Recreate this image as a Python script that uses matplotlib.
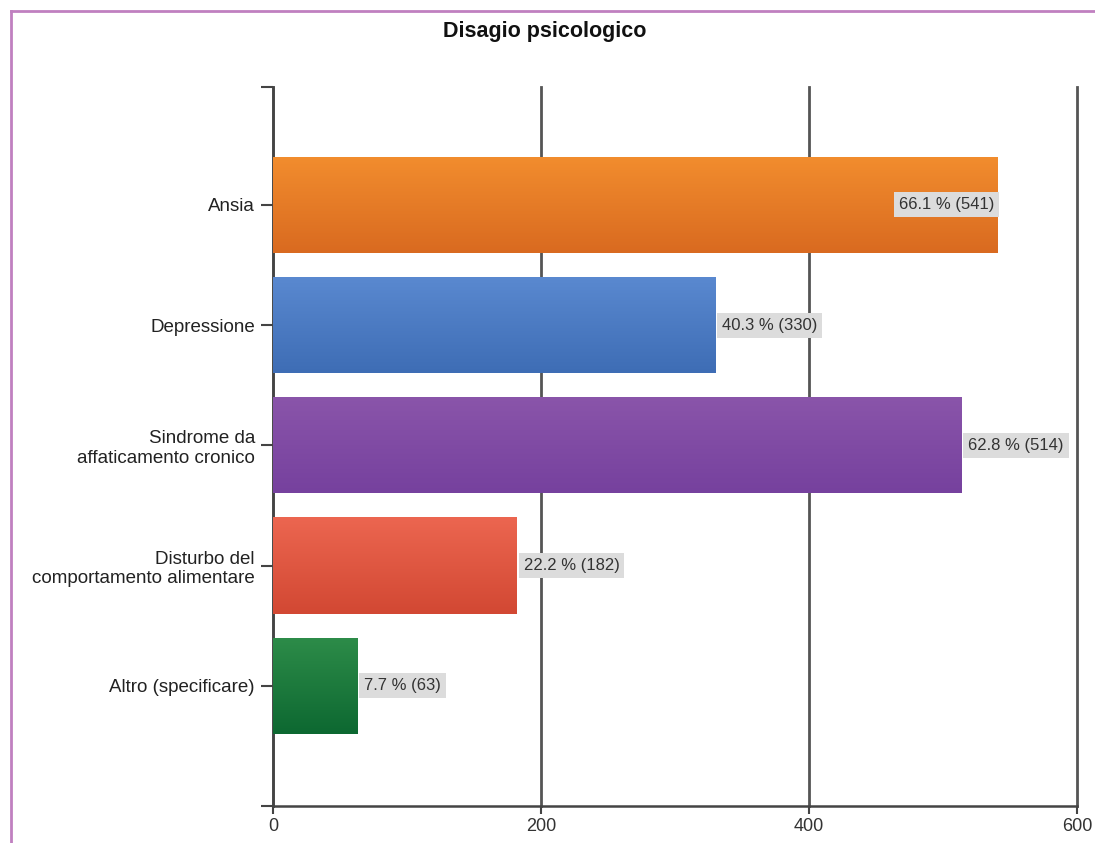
import numpy as np
import matplotlib
matplotlib.use("Agg")
import matplotlib.pyplot as plt
from matplotlib.lines import Line2D
from matplotlib.colors import LinearSegmentedColormap

# === Data ===
categories = ["Ansia", "Depressione", "Sindrome da\naffaticamento cronico",
              "Disturbo del\ncomportamento alimentare", "Altro (specificare)"]
counts = [541, 330, 514, 182, 63]
percents = [66.1, 40.3, 62.8, 22.2, 7.7]
top_colors = ["#f28d2e", "#5a89d0", "#8a55aa", "#ec6650", "#2d8c49"]
bottom_colors = ["#d96a20", "#3e6db5", "#76419e", "#d24833", "#0d6831"]

plt.rcParams['font.family'] = ['Liberation Sans', 'DejaVu Sans']

fig = plt.figure(figsize=(10.95, 8.43), dpi=100)
ax = fig.add_axes([0.2493, 0.0439, 0.7343, 0.8529])

y = np.arange(len(categories))
bars = ax.barh(y, counts, height=0.8, color=top_colors, zorder=3)

# gradient fill clipped to each bar (light on top, dark at bottom)
grad = np.linspace(0, 1, 256).reshape(-1, 1)
for b, c1, c2 in zip(bars, top_colors, bottom_colors):
    cmap = LinearSegmentedColormap.from_list("g", [c2, c1])
    x0, y0 = b.get_x(), b.get_y()
    w, h = b.get_width(), b.get_height()
    im = ax.imshow(grad, cmap=cmap, aspect="auto", extent=(x0, x0 + w, y0, y0 + h),
                   origin="upper", zorder=3.5)
    im.set_clip_path(b)

ax.set_xlim(0, 600)
ax.set_ylim(5.0, -0.98)

# data labels
box = dict(boxstyle="square,pad=0.3", fc="#dcdcdc", ec="none")
for i, (c, p) in enumerate(zip(counts, percents)):
    txt = f"{p} % ({c})"
    if c + 80 > 600:
        ax.text(c - 3, i, txt, ha="right", va="center", fontsize=12, color="#333333",
                bbox=box, zorder=5)
    else:
        ax.text(c + 5, i, txt, ha="left", va="center", fontsize=12, color="#333333",
                bbox=box, zorder=5)

ax.set_yticks(y)
ax.set_yticklabels(categories, fontsize=13.5, color="#222222")
ax.set_yticks([-0.98, 5.0], minor=True)
ax.set_xticks([0, 200, 400, 600])
ax.tick_params(axis="y", which="both", length=9, width=1.5, color="#444444", pad=4)
ax.tick_params(axis="x", length=6, width=1.5, color="#444444", labelsize=13,
               labelcolor="#333333", pad=3)

ax.grid(axis="x", color="#555555", linewidth=2, zorder=1)
for gl in ax.get_xgridlines():
    gl.set_clip_on(False)
ax.set_axisbelow(True)
for s in ["top", "right"]:
    ax.spines[s].set_visible(False)
for s in ["left", "bottom"]:
    ax.spines[s].set_color("#444444")
    ax.spines[s].set_linewidth(1.8)
ax.spines["bottom"].set_bounds(0, 600)

fig.text(0.497, 0.963, "Disagio psicologico", ha="center", va="center",
         fontsize=15.5, fontweight="bold", color="#111111")

# pink frame
fig.add_artist(Line2D([0.0105, 1.0], [0.987, 0.987], color="#c080c0", lw=2))
fig.add_artist(Line2D([0.0105, 0.0105], [0.0, 0.987], color="#c080c0", lw=2))

fig.savefig("out.png", dpi=100)
